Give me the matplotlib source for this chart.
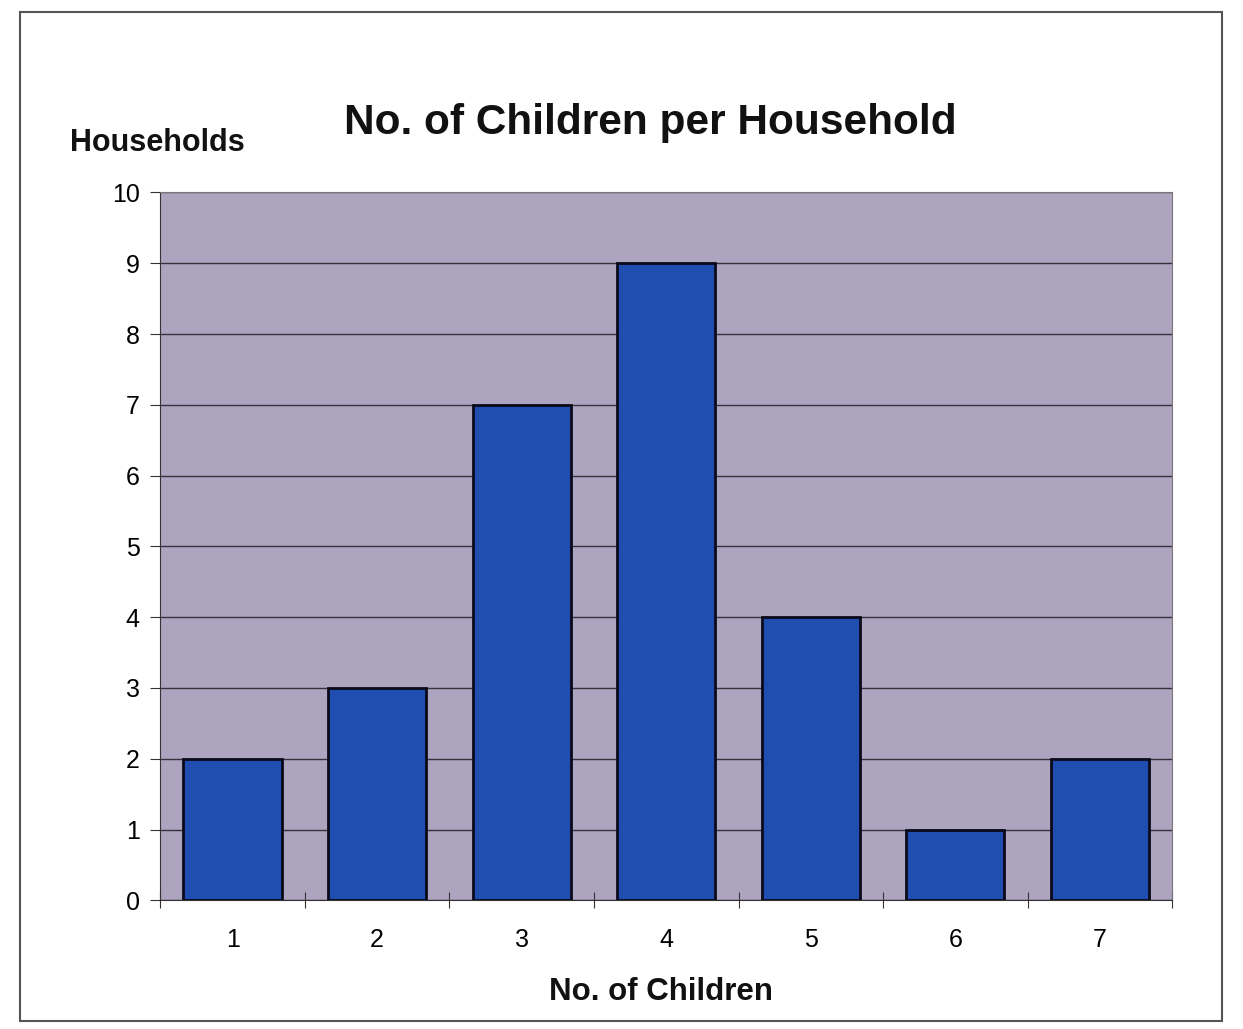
import matplotlib.pyplot as plt
import numpy as np
from matplotlib.patches import Rectangle

children = [1, 2, 3, 4, 5, 6, 7]
households = [2, 3, 7, 9, 4, 1, 2]

plt.rcParams['font.family'] = ['Liberation Sans', 'DejaVu Sans']

fig = plt.figure(figsize=(12.43, 10.29), dpi=100)
ax = fig.add_axes([0.129, 0.125, 0.814, 0.688])

# outer frame of the chart
fig.patches.append(Rectangle((0.016, 0.008), 0.967, 0.98, transform=fig.transFigure,
                             fill=False, edgecolor='#555555', linewidth=1.5))

ax.set_facecolor('#ada4bf')
x = np.arange(len(children))
ax.bar(x, households, width=0.68, color='#1f4db0', edgecolor='#0a0a1a', linewidth=2, zorder=3)

ax.set_xlim(-0.5, len(children) - 0.5)
ax.set_ylim(0, 10)
ax.set_yticks(range(0, 11))
ax.yaxis.grid(True, color='#33333d', linewidth=1)
ax.set_axisbelow(True)

# category labels centred, ticks on the boundaries
ax.set_xticks(np.arange(-0.5, len(children)), minor=False)
ax.set_xticklabels([])
ax.set_xticks(x, minor=True)
ax.set_xticklabels([str(c) for c in children], minor=True, fontsize=18)
ax.tick_params(axis='x', which='minor', length=0, pad=20)
ax.tick_params(axis='x', which='major', direction='inout', length=12, color='#333333')
ax.tick_params(axis='y', labelsize=18, length=7, color='#333333', pad=8)

for s in ['top', 'right']:
    ax.spines[s].set_color('#777777')
for s in ['left', 'bottom']:
    ax.spines[s].set_color('#333333')

fig.text(0.523, 0.88, 'No. of Children per Household', ha='center', va='center',
         fontsize=30.5, fontweight='bold', color='#111111')
fig.text(0.127, 0.861, 'Households', ha='center', va='center',
         fontsize=22, fontweight='bold', color='#111111')
fig.text(0.532, 0.036, 'No. of Children', ha='center', va='center',
         fontsize=22.5, fontweight='bold', color='#111111')

fig.savefig('out.png', dpi=100, facecolor='white')
